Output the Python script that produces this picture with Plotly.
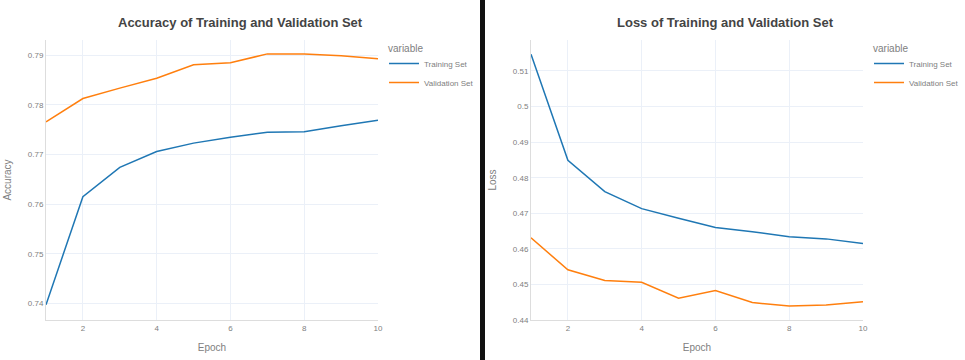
import plotly.graph_objects as go

epochs = [1, 2, 3, 4, 5, 6, 7, 8, 9, 10]
acc_train = [0.7397, 0.7615, 0.7674, 0.7706, 0.7723, 0.7735, 0.7745, 0.7746, 0.7758, 0.7769]
acc_val = [0.7766, 0.7813, 0.7834, 0.7854, 0.7881, 0.7885, 0.7903, 0.7903, 0.7899, 0.7893]
loss_train = [0.5147, 0.4849, 0.4761, 0.4713, 0.4686, 0.4660, 0.4648, 0.4634, 0.4628, 0.4615]
loss_val = [0.4631, 0.4541, 0.4511, 0.4506, 0.4461, 0.4483, 0.4449, 0.4439, 0.4442, 0.4451]

BLUE = "#1f77b4"
ORANGE = "#ff7f0e"
W, H = 965, 360
ML, MR, MT, MB = 46, 102, 40, 40
PW = W - ML - MR
PH = H - MT - MB

def px(x):
    return (x - ML) / PW

def py(y):
    return 1 - (y - MT) / PH

fig = go.Figure()
fig.add_trace(go.Scatter(x=epochs, y=acc_train, mode="lines", name="Training Set",
                         line=dict(color=BLUE, width=1.5), xaxis="x", yaxis="y", legend="legend"))
fig.add_trace(go.Scatter(x=epochs, y=acc_val, mode="lines", name="Validation Set",
                         line=dict(color=ORANGE, width=1.5), xaxis="x", yaxis="y", legend="legend"))
fig.add_trace(go.Scatter(x=epochs, y=loss_train, mode="lines", name="Training Set",
                         line=dict(color=BLUE, width=1.5), xaxis="x2", yaxis="y2", legend="legend2"))
fig.add_trace(go.Scatter(x=epochs, y=loss_val, mode="lines", name="Validation Set",
                         line=dict(color=ORANGE, width=1.5), xaxis="x2", yaxis="y2", legend="legend2"))

FONT = "Arial, Liberation Sans, sans-serif"
tickfont = dict(size=8, color="#808080", family=FONT)
titlefont = dict(size=10, color="#808080", family=FONT)
axis_common = dict(showgrid=True, gridcolor="#EBF0F8", showline=True, linecolor="#ddd",
                   linewidth=1, zeroline=False, tickfont=tickfont, ticks="", automargin=False)

legend_common = dict(yanchor="top", font=dict(size=8, color="#808080", family=FONT),
                     bgcolor="rgba(0,0,0,0)", tracegroupgap=0)

fig.update_layout(
    template="plotly_white",
    width=W, height=H,
    margin=dict(l=ML, r=MR, t=MT, b=MB, autoexpand=False),
    font=dict(family=FONT, color="#808080"),
    xaxis=dict(domain=[0, px(378)], range=[1, 10], dtick=2, tick0=0,
               title=dict(text="Epoch", font=titlefont, standoff=12), **axis_common),
    yaxis=dict(domain=[0, 1], range=[0.73663, 0.7931], dtick=0.01, anchor="x",
               title=dict(text="Accuracy", font=titlefont, standoff=14), **axis_common),
    xaxis2=dict(domain=[px(531), 1], range=[1, 10], dtick=2, tick0=0, anchor="y2",
                title=dict(text="Epoch", font=titlefont, standoff=12), **axis_common),
    yaxis2=dict(domain=[0, 1], range=[0.4400, 0.5187], dtick=0.01, anchor="x2",
                title=dict(text="Loss", font=titlefont, standoff=14), **axis_common),
    legend=dict(x=px(384), y=py(49), xanchor="left", **legend_common),
    legend2=dict(x=px(869), y=py(49), xanchor="left", **legend_common),
    showlegend=True,
    annotations=[
        dict(text="<b>Accuracy of Training and Validation Set</b>", xref="paper", yref="paper",
             x=px(240), y=py(22), xanchor="center", yanchor="middle", showarrow=False,
             font=dict(size=13, color="#444", family=FONT)),
        dict(text="<b>Loss of Training and Validation Set</b>", xref="paper", yref="paper",
             x=px(725), y=py(22), xanchor="center", yanchor="middle", showarrow=False,
             font=dict(size=13, color="#444", family=FONT)),
        dict(text="variable", xref="paper", yref="paper", x=px(386), y=py(48),
             xanchor="left", yanchor="middle", showarrow=False,
             font=dict(size=10, color="#808080", family=FONT)),
        dict(text="variable", xref="paper", yref="paper", x=px(871), y=py(48),
             xanchor="left", yanchor="middle", showarrow=False,
             font=dict(size=10, color="#808080", family=FONT)),
    ],
    shapes=[
        dict(type="rect", xref="paper", yref="paper", x0=px(480), x1=px(485),
             y0=py(H + 5), y1=py(-5), fillcolor="#111", line=dict(width=0), layer="above"),
    ],
)

fig.write_html("out.html", config={"displayModeBar": False},
               post_script="document.body.style.margin='0';document.body.style.overflow='hidden';")
